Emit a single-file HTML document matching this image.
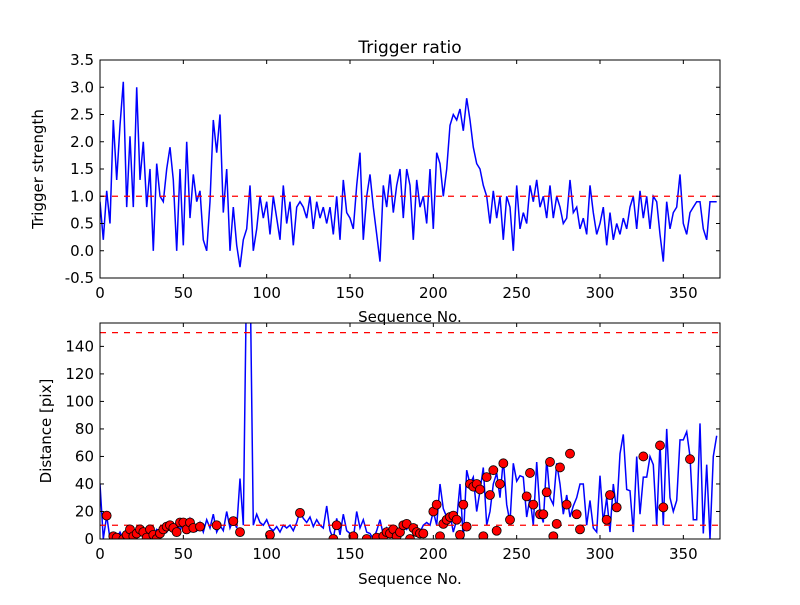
<!DOCTYPE html>
<html><head><meta charset="utf-8"><style>
body{margin:0;background:#fff}
svg text{font-family:"DejaVu Sans","Liberation Sans",sans-serif;fill:#000}
</style></head><body>
<svg id="c" width="800" height="600" xmlns="http://www.w3.org/2000/svg"></svg>
<script>
const xStep = 2;
const trigVals = [0.9,0.2,1.1,0.5,2.4,1.3,2.3,3.1,0.8,2.1,0.8,3.0,1.3,2.0,0.8,1.5,0.0,1.6,1.0,0.9,1.5,1.9,1.3,0.0,1.5,0.1,2.0,0.6,1.4,0.9,1.1,0.2,0.0,0.9,2.4,1.8,2.5,0.7,1.5,0.0,0.8,0.1,-0.3,0.2,0.4,1.2,0.0,0.4,1.0,0.6,0.9,0.3,1.0,0.6,0.2,1.2,0.5,0.9,0.1,0.8,0.9,0.8,0.6,1.0,0.4,0.9,0.6,0.8,0.5,0.8,0.3,1.0,0.2,1.3,0.7,0.6,0.4,1.2,1.8,0.2,1.0,1.4,0.8,0.3,-0.2,1.2,0.8,1.4,0.7,1.2,1.5,0.6,1.5,1.2,0.2,1.3,0.8,1.0,0.5,1.5,0.4,1.8,1.6,1.0,1.5,2.3,2.5,2.4,2.6,2.2,2.8,2.4,1.9,1.6,1.5,1.2,1.0,0.5,1.1,0.6,1.0,0.2,1.0,0.8,0.0,1.2,0.4,0.7,0.5,1.2,0.9,1.3,0.8,1.0,0.6,1.2,0.6,1.0,0.8,0.5,0.6,1.3,0.7,0.8,0.4,0.6,0.3,1.2,0.7,0.3,0.5,0.8,0.1,0.7,0.2,0.5,0.3,0.6,0.4,0.8,1.0,0.4,1.1,0.6,1.0,0.4,1.0,0.9,0.3,-0.2,0.9,0.4,0.7,0.8,1.4,0.5,0.3,0.7,0.8,0.9,0.9,0.4,0.2,0.9,0.9,0.9];
const distVals = [40,0,17,0,2,1,5,0,3,6,2,8,3,5,1,6,3,7,4,8,5,10,8,12,6,12,8,15,10,6,12,5,14,8,18,5,10,6,20,8,14,8,44,10,200,200,10,18,12,10,14,8,6,9,5,10,8,10,6,12,20,15,12,16,9,14,10,8,24,6,0,15,3,18,6,4,0,20,8,14,5,4,0,6,14,3,8,2,5,0,6,10,7,12,6,8,5,10,12,10,20,10,40,22,16,18,5,14,40,0,50,40,45,20,35,52,10,20,40,48,30,58,25,12,55,42,46,45,16,30,10,56,20,12,58,30,25,55,40,18,32,16,24,30,40,40,10,28,8,5,46,12,30,5,40,20,62,76,36,35,5,60,18,45,45,60,54,10,70,10,80,30,20,28,72,72,78,60,14,14,84,4,54,0,60,75];
const dotX = [4,8,10,14,16,18,20,22,24,26,28,30,32,34,36,38,40,42,44,46,48,50,52,54,56,60,70,80,84,102,120,140,142,152,160,166,170,172,174,176,178,180,182,184,186,188,190,192,194,200,202,204,206,208,210,212,214,216,218,220,222,224,226,228,230,232,234,236,238,240,242,246,256,258,260,264,266,268,270,272,274,276,280,282,286,288,304,306,310,326,336,338,354];
const dotY = [17,2,1,0,3,7,2,4,7,5,1,7,3,0,4,7,9,10,8,5,12,12,7,12,8,9,10,13,5,3,19,0,10,2,0,1,2,5,4,7,2,5,10,11,0,8,5,4,4,20,25,2,11,14,16,17,14,3,25,9,40,38,40,36,2,45,32,50,6,40,55,14,31,48,25,18,18,34,56,2,11,52,25,62,18,7,14,32,23,60,68,23,58];
const xTicks = [0,50,100,150,200,250,300,350];
const topYTicks = ["3.5","3.0","2.5","2.0","1.5","1.0","0.5","0.0","-0.5"];
const botYTicks = ["0","20","40","60","80","100","120","140"];

const NS="http://www.w3.org/2000/svg", svg=document.getElementById('c');
function el(t,a,p){const e=document.createElementNS(NS,t);for(const k in a)e.setAttribute(k,a[k]);(p||svg).appendChild(e);return e;}
const L=100,R=720,XMAX=372;
const sx=v=>L+(v/XMAX)*(R-L);
const T={top:60,bot:278,min:-0.5,max:3.5}, B={top:323,bot:539,min:0,max:157};
const tY=v=>T.bot-(v-T.min)/(T.max-T.min)*(T.bot-T.top);
const bY=v=>B.bot-(v-B.min)/(B.max-B.min)*(B.bot-B.top);

function axes(P,yf,yt,name){
  const g=el('g',{});
  
  
  xTicks.forEach(v=>{const x=sx(v);
    el('line',{x1:x,x2:x,y1:P.bot,y2:P.bot-4,stroke:'#000'},g);
    el('line',{x1:x,x2:x,y1:P.top,y2:P.top+4,stroke:'#000'},g);
    const t=el('text',{x:x,y:P.bot+20,'text-anchor':'middle','font-size':15},g);t.textContent=v;
    
    
  });
  yt.forEach(s=>{const y=yf(parseFloat(s));
    el('line',{x1:L,x2:L+4,y1:y,y2:y,stroke:'#000'},g);
    el('line',{x1:R,x2:R-4,y1:y,y2:y,stroke:'#000'},g);
    const t=el('text',{x:L-6,y:y+5,'text-anchor':'end','font-size':15},g);t.textContent=s;
    
    
  });
}
const clipT=el('clipPath',{id:'ct'});el('rect',{x:L,y:T.top,width:R-L,height:T.bot-T.top},clipT);
const clipB=el('clipPath',{id:'cb'});el('rect',{x:L,y:B.top,width:R-L,height:B.bot-B.top},clipB);

const pt=trigVals.map((v,i)=>sx(i*xStep).toFixed(1)+','+tY(v).toFixed(1)).join(' ');
const lt=el('polyline',{points:pt,fill:'none',stroke:'#0000ff','stroke-width':1.5,'clip-path':'url(#ct)'});


const th1=el('line',{x1:L,x2:R,y1:tY(1),y2:tY(1),stroke:'#ff0000','stroke-width':1.3,'stroke-dasharray':'6,6'});


el('rect',{x:L,y:T.top,width:R-L,height:T.bot-T.top,fill:'none',stroke:'#000'});
axes(T,tY,topYTicks,'top-axes');

const pb=distVals.map((v,i)=>sx(i*xStep).toFixed(1)+','+bY(v).toFixed(1)).join(' ');
const lb=el('polyline',{points:pb,fill:'none',stroke:'#0000ff','stroke-width':1.5,'clip-path':'url(#cb)'});


[150,10].forEach(v=>{const l=el('line',{x1:L,x2:R,y1:bY(v),y2:bY(v),stroke:'#ff0000','stroke-width':1.3,'stroke-dasharray':'6,6'});
  
  });
const dg=el('g',{'clip-path':'url(#cb)'});
dotX.forEach((x,i)=>{const c=el('circle',{cx:sx(x),cy:bY(dotY[i]),r:4.5,fill:'#ff0000',stroke:'#000','stroke-width':0.8},dg);
  
  });
el('rect',{x:L,y:B.top,width:R-L,height:B.bot-B.top,fill:'none',stroke:'#000'});
axes(B,bY,botYTicks,'bottom-axes');
</script>
<svg width="800" height="600" style="position:absolute;left:0;top:0" xmlns="http://www.w3.org/2000/svg">
<text x="410" y="53" text-anchor="middle" font-size="17">Trigger ratio</text>
<text x="410" y="322" text-anchor="middle" font-size="15">Sequence No.</text>
<text x="410" y="584" text-anchor="middle" font-size="15">Sequence No.</text>
<text transform="translate(43,169) rotate(-90)" text-anchor="middle" font-size="15">Trigger strength</text>
<text transform="translate(51,431) rotate(-90)" text-anchor="middle" font-size="15">Distance [pix]</text>
</svg>
</body></html>
